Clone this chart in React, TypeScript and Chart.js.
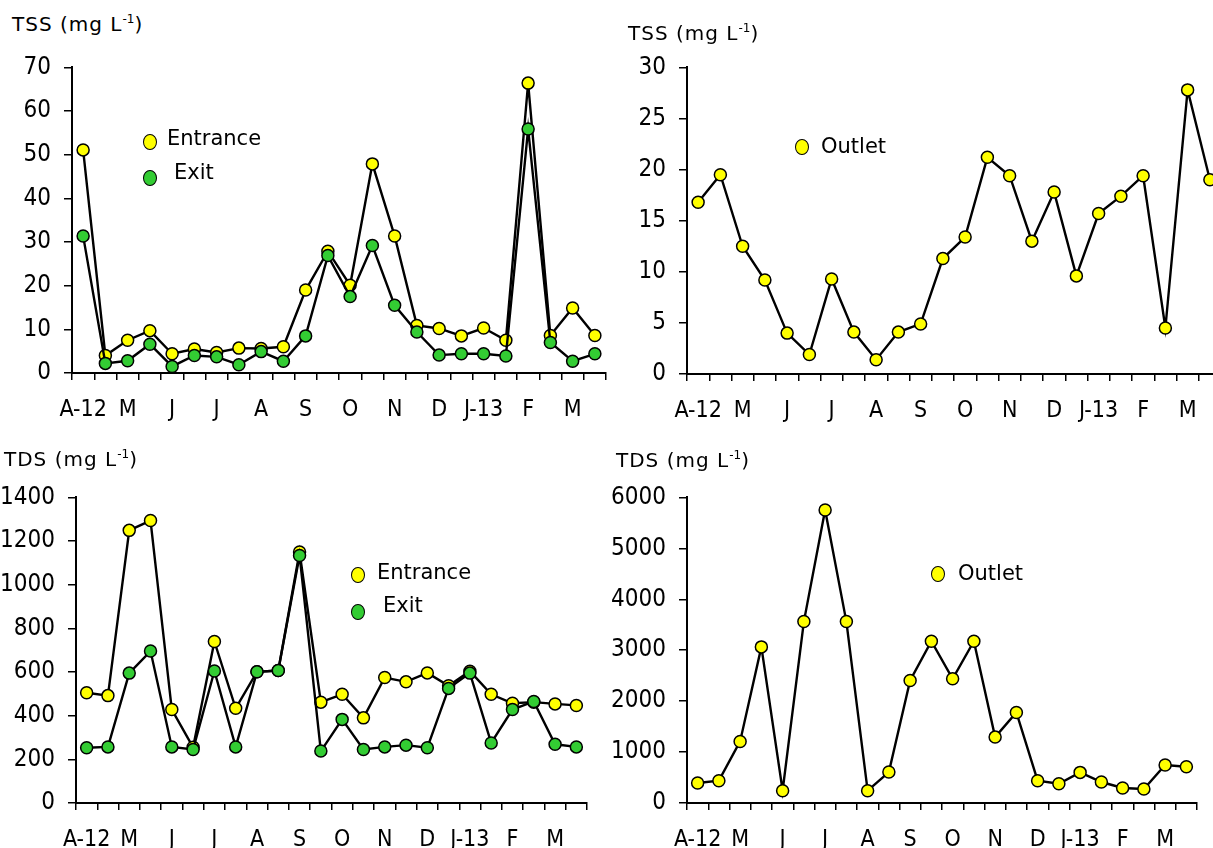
import React, { useEffect, useRef } from 'react';
import { Chart, registerables } from 'chart.js';

Chart.register(...registerables);

// ---- data ----
const monthLabels = ['A-12', '', 'M', '', 'J', '', 'J', '', 'A', '', 'S', '', 'O', '', 'N', '', 'D', '', 'J-13', '', 'F', '', 'M', ''];

const tssEntrance = [51.1, 4.0, 7.5, 9.7, 4.4, 5.5, 4.7, 5.7, 5.6, 6.0, 19.0, 27.9, 20.1, 47.9, 31.4, 10.9, 10.2, 8.5, 10.3, 7.5, 66.4, 8.6, 14.9, 8.6];
const tssExit = [31.4, 2.2, 2.8, 6.6, 1.5, 4.0, 3.7, 1.9, 4.9, 2.7, 8.5, 26.9, 17.5, 29.2, 15.5, 9.4, 4.1, 4.4, 4.4, 3.9, 55.9, 7.0, 2.7, 4.4];
const tssOutlet = [16.8, 19.5, 12.5, 9.2, 4.0, 1.9, 9.3, 4.1, 1.4, 4.1, 4.9, 11.3, 13.4, 21.2, 19.4, 13.0, 17.8, 9.6, 15.7, 17.4, 19.4, 4.5, 27.8, 19.0];
const tdsEntrance = [505, 492, 1249, 1294, 428, 255, 740, 434, 601, 607, 1150, 462, 498, 390, 575, 555, 596, 537, 604, 498, 457, 462, 454, 447];
const tdsExit = [253, 257, 595, 696, 257, 245, 605, 257, 601, 607, 1134, 238, 383, 245, 257, 265, 253, 525, 595, 275, 428, 465, 269, 257];
const tdsOutlet = [392, 438, 1209, 3065, 242, 3562, 5752, 3562, 242, 608, 2405, 3176, 2438, 3176, 1294, 1778, 438, 379, 601, 412, 294, 275, 745, 712];

const tssTicks = { max: 70, step: 10 };
const tssOutletTicks = { max: 30, step: 5 };
const tdsTicks = { max: 1400, step: 200 };
const tdsOutletTicks = { max: 6000, step: 1000 };

const YELLOW = '#ffff00';
const GREEN = '#33cc33';
const TICK_FONT = '"Liberation Sans Narrow", "DejaVu Sans Condensed", "Arial Narrow", sans-serif';
const TEXT_FONT = '"DejaVu Sans", Verdana, sans-serif';

type Series = { label: string; data: number[]; color: string; order: number };
type Area = { left: number; top: number; right: number; bottom: number };

interface PanelProps {
  left: number;
  top: number;
  width: number;
  height: number;
  area: Area;
  yMax: number;
  yStep: number;
  series: Series[];
}

function Panel({ left, top, width, height, area, yMax, yStep, series }: PanelProps) {
  const ref = useRef<HTMLCanvasElement>(null);
  useEffect(() => {
    const chart = new Chart(ref.current as HTMLCanvasElement, {
      type: 'line',
      data: {
        labels: monthLabels,
        datasets: series.map((s) => ({
          label: s.label,
          data: s.data,
          order: s.order,
          borderColor: '#000',
          borderWidth: 2.4,
          pointBackgroundColor: s.color,
          pointBorderColor: '#000',
          pointBorderWidth: 1.5,
          pointRadius: 6,
          pointHoverRadius: 6,
          tension: 0,
          fill: false,
        })),
      },
      options: {
        responsive: false,
        maintainAspectRatio: false,
        animation: false,
        devicePixelRatio: 1,
        events: [],
        layout: { padding: { left: 0, top: area.top, right: width - area.right, bottom: 0 } },
        plugins: { legend: { display: false }, tooltip: { enabled: false }, title: { display: false } },
        scales: {
          x: {
            type: 'category',
            offset: true,
            afterFit: (s: any) => {
              s.height = height - area.bottom;
            },
            border: { display: true, color: '#000', width: 2 },
            grid: { offset: true, drawOnChartArea: false, drawTicks: true, tickLength: 7, color: '#000', lineWidth: 1.5 },
            ticks: {
              autoSkip: false,
              maxRotation: 0,
              minRotation: 0,
              padding: 16,
              color: '#000',
              font: { family: TICK_FONT, size: 23 },
            },
          },
          y: {
            min: 0,
            max: yMax,
            afterFit: (s: any) => {
              s.width = area.left;
            },
            border: { display: true, color: '#000', width: 2 },
            grid: { drawOnChartArea: false, drawTicks: true, tickLength: 8, color: '#000', lineWidth: 1.5 },
            ticks: {
              stepSize: yStep,
              padding: 13,
              color: '#000',
              font: { family: TICK_FONT, size: 24 },
              callback: (v: any) => String(v),
            },
          },
        },
      },
    });
    return () => chart.destroy();
  }, []);
  return (
    <canvas
      ref={ref}
      width={width}
      height={height}
      style={{ position: 'absolute', left, top, width, height }}
    />
  );
}

function Title({ left, top, name }: { left: number; top: number; name: string }) {
  return (
    <div
      style={{
        position: 'absolute',
        left,
        top,
        fontFamily: TEXT_FONT,
        fontSize: 20,
        letterSpacing: 1,
        color: '#000',
        whiteSpace: 'nowrap',
        lineHeight: '22px',
      }}
    >
      {name} (mg L<sup style={{ fontSize: 12, verticalAlign: 'top', lineHeight: '12px', letterSpacing: 0 }}>-1</sup>)
    </div>
  );
}

function LegendItem({ x, y, tx, ty, color, text }: { x: number; y: number; tx: number; ty: number; color: string; text: string }) {
  return (
    <>
      <div
        style={{
          position: 'absolute',
          left: x - 7,
          top: y - 8,
          width: 12,
          height: 14,
          borderRadius: '50%',
          background: color,
          border: '1.5px solid #000',
        }}
      />
      <div
        style={{
          position: 'absolute',
          left: tx,
          top: ty - 12,
          fontFamily: TEXT_FONT,
          fontSize: 21,
          lineHeight: '24px',
          color: '#000',
          whiteSpace: 'nowrap',
        }}
      >
        {text}
      </div>
    </>
  );
}

export default function App() {
  return (
    <div style={{ position: 'absolute', left: 0, top: 0, width: 1213, height: 848, overflow: 'hidden', background: '#fff' }}>
      <Panel
        left={0}
        top={40}
        width={615}
        height={390}
        area={{ left: 72, top: 23, right: 606, bottom: 333 }}
        yMax={tssTicks.max}
        yStep={tssTicks.step}
        series={[
          { label: 'Entrance', data: tssEntrance, color: YELLOW, order: 1 },
          { label: 'Exit', data: tssExit, color: GREEN, order: 0 },
        ]}
      />
      <Panel
        left={605}
        top={40}
        width={630}
        height={390}
        area={{ left: 82, top: 26, right: 616, bottom: 334 }}
        yMax={tssOutletTicks.max}
        yStep={tssOutletTicks.step}
        series={[{ label: 'Outlet', data: tssOutlet, color: YELLOW, order: 0 }]}
      />
      <Panel
        left={0}
        top={470}
        width={600}
        height={378}
        area={{ left: 76, top: 24, right: 587, bottom: 333 }}
        yMax={tdsTicks.max}
        yStep={tdsTicks.step}
        series={[
          { label: 'Entrance', data: tdsEntrance, color: YELLOW, order: 1 },
          { label: 'Exit', data: tdsExit, color: GREEN, order: 0 },
        ]}
      />
      <Panel
        left={605}
        top={470}
        width={608}
        height={378}
        area={{ left: 82, top: 26, right: 592, bottom: 333 }}
        yMax={tdsOutletTicks.max}
        yStep={tdsOutletTicks.step}
        series={[{ label: 'Outlet', data: tdsOutlet, color: YELLOW, order: 0 }]}
      />

      <Title left={12} top={13} name="TSS" />
      <Title left={628} top={22} name="TSS" />
      <Title left={4} top={448} name="TDS" />
      <Title left={616} top={449} name="TDS" />

      <LegendItem x={150} y={142} tx={167} ty={138} color={YELLOW} text="Entrance" />
      <LegendItem x={150} y={178} tx={174} ty={172} color={GREEN} text="Exit" />
      <LegendItem x={802} y={147} tx={821} ty={146} color={YELLOW} text="Outlet" />
      <LegendItem x={358} y={575} tx={377} ty={572} color={YELLOW} text="Entrance" />
      <LegendItem x={358} y={612} tx={383} ty={605} color={GREEN} text="Exit" />
      <LegendItem x={938} y={574} tx={958} ty={573} color={YELLOW} text="Outlet" />
    </div>
  );
}
